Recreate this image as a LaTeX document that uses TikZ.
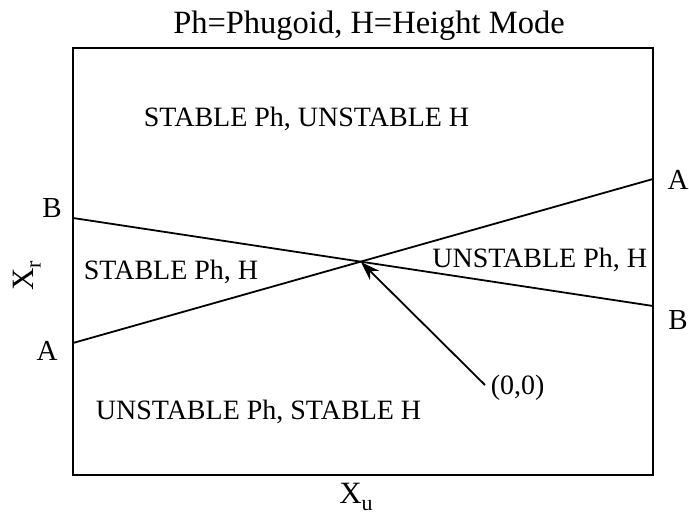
\documentclass[tikz,border=0pt]{standalone}
\usepackage{fontspec}
\setmainfont{Liberation Serif}
\usetikzlibrary{arrows.meta}
\newcommand{\mysub}[1]{\raisebox{-7pt}{\fontsize{22}{24}\selectfont #1}}
\begin{document}
\begin{tikzpicture}[x=1pt,y=-1pt,line width=1.8pt,
  region/.style={font=\fontsize{28}{30}\selectfont,anchor=base west,inner sep=0pt},
  regionr/.style={font=\fontsize{28}{30}\selectfont,anchor=base east,inner sep=0pt},
  endlabel/.style={font=\fontsize{29}{31}\selectfont,inner sep=0pt},
  axlabel/.style={font=\fontsize{31}{33}\selectfont,inner sep=0pt}]
\useasboundingbox (0,0) rectangle (689,518);
% frame
\coordinate (TL) at (73,48);
\coordinate (BRc) at (653,475);
\draw (TL) rectangle (BRc);
% boundary lines
\coordinate (AL) at (73,343);
\coordinate (AR) at (653,179);
\coordinate (BL) at (73,218);
\coordinate (BR) at (653,306);
\coordinate (O) at (361,262);
\draw (AL) -- (AR);
\draw (BL) -- (BR);
% title
\node[font=\fontsize{32.5}{34}\selectfont,anchor=base,inner sep=0pt] (title) at (369,34) {Ph=Phugoid, H=Height Mode};
% region labels
\node[region] (r1) at (143,127) {STABLE Ph, UNSTABLE H};
\node[region] (r2) at (83,280) {STABLE Ph, H};
\node[regionr] (r3) at (648,268) {UNSTABLE Ph, H};
\node[region] (r4) at (95,420) {UNSTABLE Ph, STABLE H};
% end labels
\node[endlabel] (bl) at (52,208) {B};
\node[endlabel] (al) at (47,351) {A};
\node[endlabel] (ar) at (678,180) {A};
\node[endlabel] (brl) at (678,320) {B};
% axis labels
\node[axlabel,rotate=90] (xr) at (27,276) {X\mysub{r}};
\node[axlabel] (xu) at (356,497) {X\mysub{u}};
% origin pointer
\node[region] (orig) at (490,395) {(0,0)};
\coordinate (tail) at (485,385);
\draw[-{Stealth[length=19pt,width=13pt,inset=6pt]}] (tail) -- (O);
\end{tikzpicture}
\end{document}
